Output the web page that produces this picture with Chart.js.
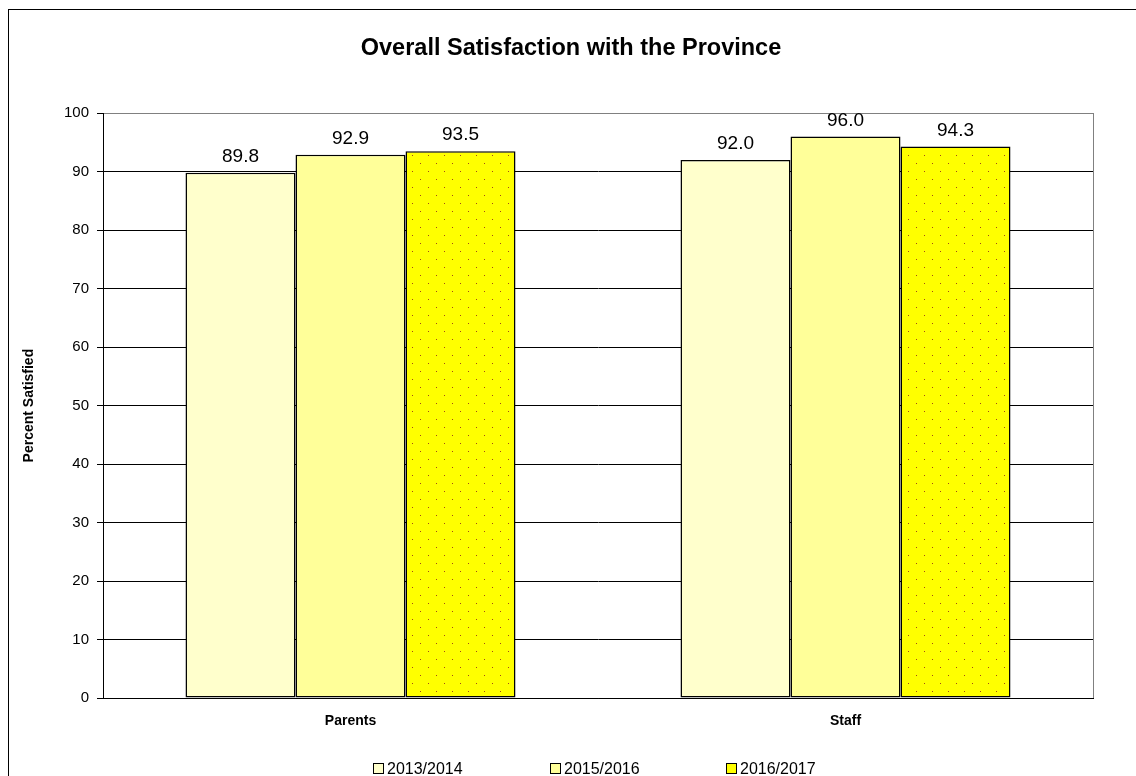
<!DOCTYPE html>
<html>
<head>
<meta charset="utf-8">
<title>Overall Satisfaction with the Province</title>
<script src="https://cdn.jsdelivr.net/npm/chart.js@4.4.1/dist/chart.umd.min.js"></script>
<style>
    html, body { margin: 0; padding: 0; background: #fff; }
    canvas { display: block; }
</style>
</head>
<body>
<canvas id="satisfaction-chart" width="1136" height="776"></canvas>
<script>
// Chart data
const categories = ['Parents', 'Staff'];
const seriesLabels = ['2013/2014', '2015/2016', '2016/2017'];
const values2013 = [89.8, 92.0];
const values2015 = [92.9, 96.0];
const values2016 = [93.5, 94.3];
const yMin = 0;
const yMax = 100;
const yStep = 10;
const seriesColors = ['#FFFFCC', '#FFFF99', '#FFFF00'];

(function() {
    'use strict';

    Chart.defaults.font.family = "'Liberation Sans', Arial, sans-serif";
    Chart.defaults.color = '#000';

    /**
     * Dotted fill used for the last series
     */
    function makeDotPattern(base) {
        const tile = document.createElement('canvas');
        tile.width = 16;
        tile.height = 16;
        const t = tile.getContext('2d');
        t.fillStyle = base;
        t.fillRect(0, 0, 16, 16);
        t.fillStyle = '#A04818';
        t.fillRect(4, 3, 1, 1);
        t.fillRect(12, 11, 1, 1);
        return t.createPattern(tile, 'repeat');
    }

    const fills = [seriesColors[0], seriesColors[1], makeDotPattern(seriesColors[2])];
    const seriesValues = [values2013, values2015, values2016];

    /**
     * Outer frame + grey plot border
     */
    const framePlugin = {
        id: 'frame',
        beforeDraw(chart) {
            const ctx = chart.ctx;
            const a = chart.chartArea;
            ctx.save();
            ctx.fillStyle = '#fff';
            ctx.fillRect(0, 0, chart.width, chart.height);
            ctx.strokeStyle = '#000';
            ctx.lineWidth = 1;
            ctx.strokeRect(8.5, 9.5, chart.width + 20, chart.height + 20);
            ctx.strokeStyle = '#808080';
            ctx.strokeRect(Math.round(a.left) + 0.5, Math.round(a.top) + 0.5,
                Math.round(a.right - a.left), Math.round(a.bottom - a.top));
            ctx.restore();
        }
    };

    /**
     * Value labels above bars
     */
    const valueLabels = {
        id: 'valueLabels',
        afterDatasetsDraw(chart) {
            const ctx = chart.ctx;
            ctx.save();
            ctx.font = "19px 'Liberation Sans', Arial, sans-serif";
            ctx.fillStyle = '#000';
            ctx.textAlign = 'center';
            ctx.textBaseline = 'alphabetic';
            chart.data.datasets.forEach((ds, i) => {
                chart.getDatasetMeta(i).data.forEach((bar, j) => {
                    ctx.fillText(ds.data[j].toFixed(1), bar.x, bar.y - 11);
                });
            });
            ctx.restore();
        }
    };

    /**
     * Legend row at the bottom (Excel style, small square keys)
     */
    const bottomLegend = {
        id: 'bottomLegend',
        afterDraw(chart) {
            const ctx = chart.ctx;
            const startX = 373;
            const step = 176.5;
            const boxTop = 763;
            const box = 11;
            ctx.save();
            ctx.font = "16px 'Liberation Sans', Arial, sans-serif";
            ctx.textBaseline = 'alphabetic';
            ctx.textAlign = 'left';
            chart.data.datasets.forEach((ds, i) => {
                const x = Math.round(startX + i * step);
                ctx.fillStyle = ds.backgroundColor;
                ctx.fillRect(x, boxTop, box, box);
                ctx.strokeStyle = '#000';
                ctx.lineWidth = 1;
                ctx.strokeRect(x + 0.5, boxTop + 0.5, box - 1, box - 1);
                ctx.fillStyle = '#000';
                ctx.fillText(ds.label, x + 14, boxTop + 11);
            });
            ctx.restore();
        }
    };

    const ctx = document.getElementById('satisfaction-chart');

    new Chart(ctx, {
        type: 'bar',
        data: {
            labels: categories,
            datasets: seriesLabels.map((label, i) => ({
                label: label,
                data: seriesValues[i],
                backgroundColor: fills[i],
                borderColor: '#000',
                borderWidth: 1.5,
                borderSkipped: false,
                categoryPercentage: 0.6667,
                barPercentage: 1.0
            }))
        },
        options: {
            responsive: false,
            animation: false,
            layout: {
                // left padding keeps the title centred on the whole frame
                padding: { left: 49, right: 43, top: 0, bottom: 48 }
            },
            plugins: {
                legend: { display: false },
                tooltip: { enabled: false },
                title: {
                    display: true,
                    text: 'Overall Satisfaction with the Province',
                    color: '#000',
                    font: { size: 23.5, weight: 'bold' },
                    padding: { top: 34, bottom: 51 }
                }
            },
            scales: {
                x: {
                    afterFit(scale) { scale.height = 30; },
                    grid: { display: false, drawTicks: false },
                    border: { display: true, color: '#000', width: 1 },
                    ticks: {
                        color: '#000',
                        padding: 15,
                        font: { size: 14, weight: 'bold' }
                    }
                },
                y: {
                    min: yMin,
                    max: yMax,
                    afterFit(scale) { scale.width = 54; },
                    grid: {
                        color: (c) => (c.tick && c.tick.value === yMax ? '#808080' : '#000'),
                        tickColor: '#000',
                        tickLength: 6,
                        lineWidth: 1
                    },
                    border: { display: true, color: '#000', width: 1 },
                    ticks: {
                        stepSize: yStep,
                        color: '#000',
                        padding: 8,
                        font: { size: 15 }
                    },
                    title: {
                        display: true,
                        text: 'Percent Satisfied',
                        color: '#000',
                        font: { size: 14, weight: 'bold' },
                        padding: { top: -28.4, bottom: 0 }
                    }
                }
            }
        },
        plugins: [framePlugin, valueLabels, bottomLegend]
    });
})();
</script>
</body>
</html>
